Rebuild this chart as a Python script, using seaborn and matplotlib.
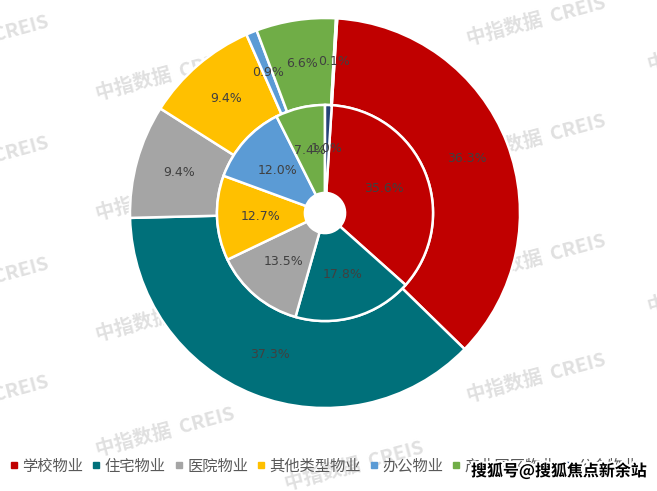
import matplotlib
matplotlib.use("Agg")
import matplotlib.pyplot as plt
import matplotlib.patheffects as pe
from matplotlib.lines import Line2D
import seaborn as sns

# 数据：外环 / 内环占比（%）
categories = ["学校物业", "住宅物业", "医院物业", "其他类型物业", "办公物业", "产业园区物业", "公众物业"]
outer_share = [36.3, 37.3, 9.4, 9.4, 0.9, 6.6, 0.1]
inner_share = [35.6, 17.8, 13.5, 12.7, 12.0, 7.4, 1.0]
colors = ["#C00000", "#00707A", "#A5A5A5", "#FFC000", "#5B9BD5", "#70AD47", "#264478"]

sns.set_theme(style="white")
plt.rcParams['font.family'] = ['Noto Sans CJK SC', 'DejaVu Sans']

W, H = 657, 491
fig = plt.figure(figsize=(W / 100, H / 100), dpi=100)

# 背景水印
wm_pos = [(-21, 40), (-21, 161), (-21, 282), (-21, 400),
          (165, 76), (165, 196), (165, 317), (165, 432),
          (354, 466),
          (536, 21), (536, 139), (536, 259), (536, 378),
          (717, 47), (717, 289)]
for x, y in wm_pos:
    fig.text(x / W, 1 - y / H, "中指数据  CREIS", fontsize=14, fontweight='bold',
             color="#E0E0E0", rotation=15, ha='center', va='center', zorder=-5)

# 环形图
cx, cy, R = 325, 213, 195
lim = 1.1
side = 2 * R * lim
ax = fig.add_axes([(cx - R * lim) / W, (H - cy - R * lim) / H, side / W, side / H])
ax.set_facecolor("none")

edge = dict(edgecolor="white", linewidth=1.8)
label_style = dict(color="#404040", fontsize=9, family="DejaVu Sans")

ax.pie(outer_share, radius=1.0, colors=colors, startangle=86.4, counterclock=False,
       wedgeprops=dict(width=0.446, **edge), autopct='%.1f%%', pctdistance=0.777,
       textprops=label_style)
ax.pie(inner_share, radius=0.554, colors=colors, startangle=86.4, counterclock=False,
       wedgeprops=dict(width=0.451, **edge), autopct='%.1f%%', pctdistance=0.593,
       textprops=label_style)
ax.set_xlim(-lim, lim)
ax.set_ylim(-lim, lim)
ax.set_aspect('equal')
ax.axis('off')

# 图例
handles = [Line2D([], [], marker='s', linestyle='none', markersize=5,
                  markerfacecolor=c, markeredgecolor=c) for c in colors]
fig.legend(handles, categories, loc='center left', bbox_to_anchor=(7 / W, 1 - 466 / H),
           ncol=7, frameon=False, fontsize=11, handlelength=0.5, handletextpad=0.3,
           columnspacing=0.6, labelcolor="#595959", borderaxespad=0, borderpad=0.2)

# 来源水印
fig.text(559 / W, 1 - 471 / H, "搜狐号@搜狐焦点新余站", fontsize=11.5, fontweight='bold',
         color="black", ha='center', va='center', zorder=10,
         path_effects=[pe.withStroke(linewidth=3, foreground="white")])

fig.savefig("out.png", dpi=100)
